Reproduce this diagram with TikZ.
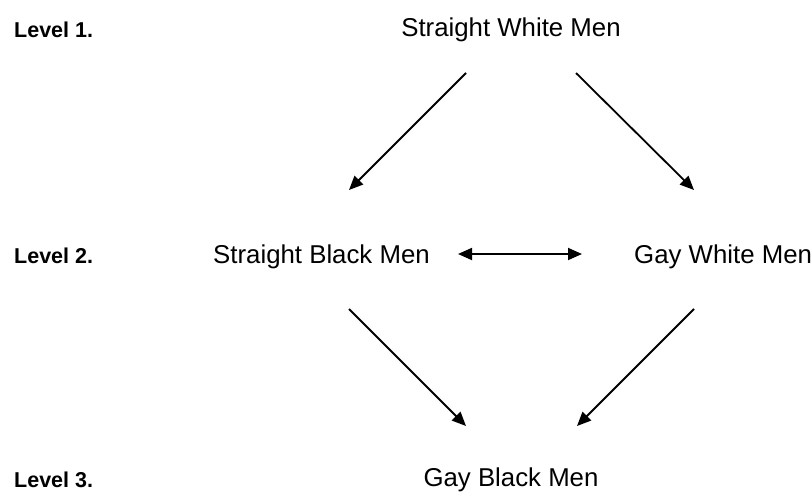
\documentclass[tikz,border=0pt]{standalone}
\usepackage{fontspec}
\setmainfont{Liberation Sans}
\usetikzlibrary{arrows.meta}
\begin{document}
\begin{tikzpicture}[x=1pt,y=-1pt,
  lvl/.style={anchor=base west,inner sep=0pt,font=\fontsize{21.5}{24}\selectfont\bfseries},
  grp/.style={anchor=base,inner sep=0pt,font=\fontsize{25.8}{30}\selectfont},
  tip/.tip={Triangle[length=14pt,width=12pt]},
  arr/.style={line width=1.8pt,-tip},
  darr/.style={line width=1.8pt,tip-tip}]
\useasboundingbox (0,0) rectangle (811,492);
\node[lvl] (l1) at (14,38) {Level 1.};
\node[lvl] (l2) at (14,263) {Level 2.};
\node[lvl] (l3) at (14,487) {Level 3.};
\node[grp] (swm) at (511,37) {Straight White Men};
\node[grp] (sbm) at (321.5,263) {Straight Black Men};
\node[grp,anchor=base west] (gwm) at (634,263) {Gay White Men};
\node[grp] (gbm) at (511,486) {Gay Black Men};
\coordinate (a1s) at (466,73);  \coordinate (a1e) at (349,190);
\coordinate (a2s) at (576,73);  \coordinate (a2e) at (694,190);
\coordinate (a3s) at (349,309); \coordinate (a3e) at (466,426);
\coordinate (a4s) at (694,309); \coordinate (a4e) at (577,426);
\coordinate (d1) at (458,254);  \coordinate (d2) at (582,254);
\draw[arr] (a1s) -- (a1e);
\draw[arr] (a2s) -- (a2e);
\draw[arr] (a3s) -- (a3e);
\draw[arr] (a4s) -- (a4e);
\draw[darr] (d1) -- (d2);
\end{tikzpicture}
\end{document}
